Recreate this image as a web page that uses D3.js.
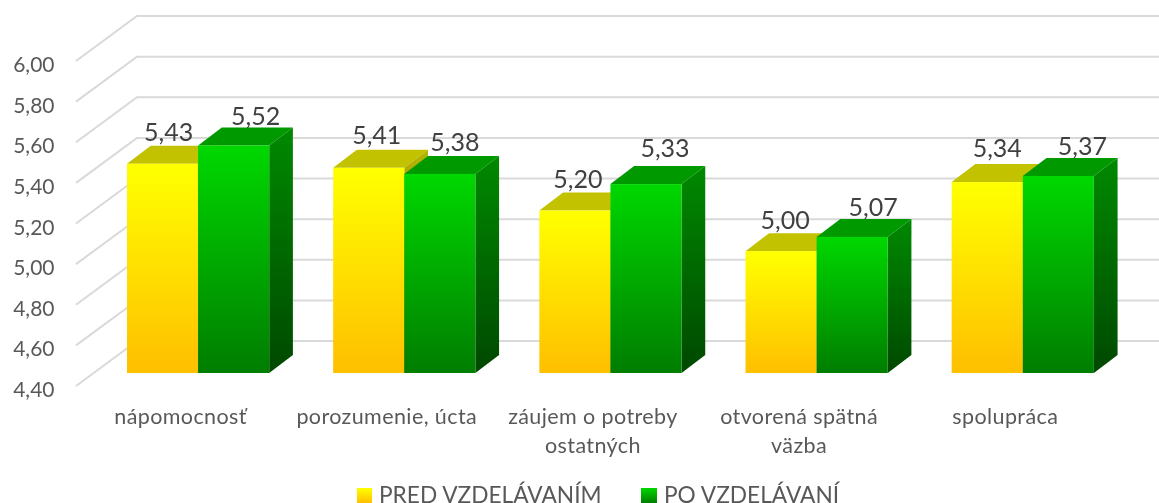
<!DOCTYPE html>
<html lang="sk"><head><meta charset="utf-8">
<script src="https://cdn.jsdelivr.net/npm/d3@7/dist/d3.min.js"></script>
<style>html,body{margin:0;padding:0;background:#fff;overflow:hidden}svg{display:block}text{font-family:Lato,"Open Sans",sans-serif}</style>
</head><body><svg id="c" width="1159" height="503"></svg>
<script>
const categories = [["nápomocnosť"],["porozumenie, úcta"],["záujem o potreby","ostatných"],["otvorená spätná","väzba"],["spolupráca"]];
const seriesNames = ["PRED VZDELÁVANÍM","PO VZDELÁVANÍ"];
const predValues = [5.43,5.41,5.20,5.00,5.34];
const poValues = [5.52,5.38,5.33,5.07,5.37];
const tickValues = [4.4,4.6,4.8,5.0,5.2,5.4,5.6,5.8,6.0];

// layout (kept apart from the data)
const labelNudge = [[[6,-23],[22,-21]],[[8,-24],[15,-23]],[[3,-23],[19,-27]],[[4,-22],[21,-21]],[[10,-25],[24,-21]]];
const faces = [
 {front:["#ffff00","#ffc000"], top:"#c2c200", side:["#b3b300","#866500"]},
 {front:["#00d600","#007f00"], top:"#009a00", side:["#008800","#004a00"]}
];

const svg = d3.select("#c");
const fmt = v => v.toFixed(2).replace(".",",");
const y = d3.scaleLinear().domain([4.4,6.0]).range([373,48]);
const x0 = d3.scaleBand().domain(d3.range(categories.length)).range([95,1125.85]);
const x1 = d3.scaleBand().domain([0,1]).range([32,174.2]);
const backDy=-32, wallFrontX=76, wallBackX=137, wallFrontDy=13, rightX=1159, depthX=23.7, depthY=-18;

const defs = svg.append("defs");
const grad=(id,c)=>{const g=defs.append("linearGradient").attr("id",id).attr("x1",0).attr("y1",0).attr("x2",0).attr("y2",1);
  g.append("stop").attr("offset",0.02).attr("stop-color",c[0]);g.append("stop").attr("offset",0.98).attr("stop-color",c[1]);};
faces.forEach((f,i)=>{grad("front"+i,f.front);grad("side"+i,f.side);});
defs.append("filter").attr("id","soft").append("feGaussianBlur").attr("stdDeviation",0.45);

const root = svg.append("g").attr("filter","url(#soft)");
const grid = root.append("g").attr("fill","none").attr("stroke","#d9d9d9").attr("stroke-width",2);
grid.selectAll("path").data(tickValues).join("path")
  .attr("d",t=>`M${wallFrontX},${y(t)+wallFrontDy}L${wallBackX},${y(t)+backDy}L${rightX},${y(t)+backDy}`);

root.append("g").attr("fill","#595959").attr("font-size",21).attr("text-anchor","end")
  .selectAll("text").data(tickValues).join("text")
  .attr("x",54.5).attr("y",t=>y(t)+24).text(fmt);

const series=[predValues,poValues];
series.forEach((vals,s)=>{
  const g=root.append("g");
  const bx=i=>x0(i)+x1(s), w=x1.bandwidth(), base=y(4.4);
  const pts=a=>a.map(p=>p.join(",")).join(" ");
  g.selectAll("polygon.t").data(vals).join("polygon").attr("class","t").attr("fill",faces[s].top)
    .attr("points",(v,i)=>pts([[bx(i),y(v)],[bx(i)+depthX,y(v)+depthY],[bx(i)+w+depthX,y(v)+depthY],[bx(i)+w,y(v)]]));
  g.selectAll("polygon.s").data(vals).join("polygon").attr("class","s").attr("fill",`url(#side${s})`)
    .attr("points",(v,i)=>pts([[bx(i)+w,y(v)],[bx(i)+w+depthX,y(v)+depthY],[bx(i)+w+depthX,base+depthY],[bx(i)+w,base]]));
  g.selectAll("rect").data(vals).join("rect").attr("fill",`url(#front${s})`)
    .attr("x",(v,i)=>bx(i)).attr("y",v=>y(v)).attr("width",w).attr("height",v=>base-y(v));
});

series.forEach((vals,s)=>{
  root.append("g").attr("fill","#404040").attr("font-size",25).attr("text-anchor","middle")
   .selectAll("text").data(vals).join("text")
   .attr("x",(v,i)=>x0(i)+x1(s)+x1.bandwidth()/2+labelNudge[i][s][0])
   .attr("y",(v,i)=>y(v)+labelNudge[i][s][1]).text(fmt);
});

const cat=root.append("g").attr("fill","#595959").attr("font-size",21.5).attr("letter-spacing",0.4).attr("text-anchor","middle");
categories.forEach((lines,i)=>lines.forEach((l,j)=>{
  cat.append("text").attr("x",x0(i)+x0.bandwidth()/2-17.5).attr("y",424+j*29).text(l);
}));

const legendX=[357,641], legendW=[15,16], legendTextX=[379,664];
const leg=root.append("g");
seriesNames.forEach((n,s)=>{
  leg.append("rect").attr("x",legendX[s]).attr("y",488).attr("width",legendW[s]).attr("height",15).attr("fill",`url(#front${s})`);
  leg.append("text").attr("x",legendTextX[s]).attr("y",503).attr("fill","#595959").attr("font-size",22.7).text(n);
});
</script></body></html>
